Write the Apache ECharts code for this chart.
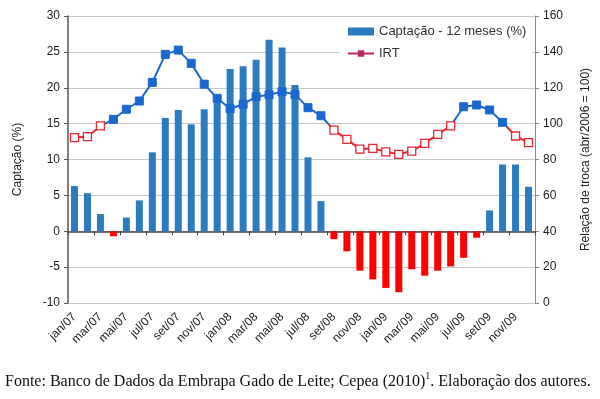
<!DOCTYPE html>
<html>
<head>
<meta charset="utf-8">
<script src="https://cdn.jsdelivr.net/npm/echarts@6/dist/echarts.min.js"></script>
<style>
  html, body { margin: 0; padding: 0; background: #fff; }
  #chart { width: 600px; height: 399px; }
</style>
</head>
<body>
<div id="chart"></div>
<script>
// meses jan/07 .. dez/09
var months = ['jan/07','fev/07','mar/07','abr/07','mai/07','jun/07','jul/07','ago/07','set/07','out/07','nov/07','dez/07',
  'jan/08','fev/08','mar/08','abr/08','mai/08','jun/08','jul/08','ago/08','set/08','out/08','nov/08','dez/08',
  'jan/09','fev/09','mar/09','abr/09','mai/09','jun/09','jul/09','ago/09','set/09','out/09','nov/09','dez/09']

// Captação - 12 meses (%)
var captacao = [6.3, 5.3, 2.4, -0.7, 1.9, 4.3, 11.0, 15.8, 16.9, 14.9, 17.0, 18.8,
  22.6, 23.0, 23.9, 26.7, 25.6, 20.4, 10.3, 4.2, -1.1, -2.8, -5.5, -6.7,
  -7.9, -8.5, -5.3, -6.2, -5.5, -4.9, -3.7, -0.9, 2.9, 9.3, 9.3, 6.2]

// IRT (abr/2006 = 100)
var irt = [92.2, 92.7, 98.7, 102.4, 108.0, 112.6, 123.0, 138.6, 141.0, 133.6, 122.0, 114.1,
  108.3, 110.8, 115.0, 116.1, 117.8, 116.3, 108.9, 104.4, 96.4, 91.2, 85.8, 86.2,
  84.3, 82.9, 84.7, 89.0, 94.0, 98.8, 109.4, 110.4, 107.6, 100.7, 93.1, 89.4]

var BLUE_BAR = '#2a7bbf'
var RED_BAR = '#ff0000'
var BLUE_LINE = '#1a68cf'
var RED_LINE = '#e8262c'
var LEGEND_IRT = '#b8245c'

var chart = echarts.init(document.getElementById('chart'))

chart.setOption({
  animation: false,
  textStyle: { fontFamily: 'Liberation Sans, Arial, sans-serif' },
  grid: { left: 68, right: 51, top: 16, bottom: 96 },
  legend: {
    orient: 'vertical',
    left: 340,
    top: 22,
    itemGap: 9,
    itemWidth: 26,
    itemHeight: 8,
    backgroundColor: '#fff',
    padding: [3, 6, 3, 7],
    textStyle: { fontSize: 13, color: '#333' },
    data: [
      { name: 'Captação - 12 meses (%)', icon: 'rect' },
      { name: 'IRT', itemStyle: { color: LEGEND_IRT }, lineStyle: { color: LEGEND_IRT, width: 2 } }
    ]
  },
  visualMap: {
    show: false,
    type: 'piecewise',
    seriesIndex: 1,
    dimension: 1,
    pieces: [
      { min: 100, max: 200, color: BLUE_LINE },
      { min: 0, max: 100, color: RED_LINE }
    ]
  },
  xAxis: [
    {
      type: 'category',
      data: months,
      position: 'bottom',
      boundaryGap: true,
      axisLine: { show: false, onZero: false },
      axisTick: { show: false },
      axisLabel: { interval: 1, rotate: 45, fontSize: 12, color: '#222', margin: 12 }
    },
    {
      type: 'category',
      data: months,
      position: 'top',
      boundaryGap: true,
      axisLine: { show: true, onZero: true, onZeroAxisIndex: 0, lineStyle: { color: '#444', width: 1.5 } },
      axisTick: { show: true, interval: 1, inside: true, length: 4, lineStyle: { color: '#444' } },
      axisLabel: { show: false }
    }
  ],
  yAxis: [
    {
      type: 'value',
      min: -10,
      max: 30,
      interval: 5,
      name: 'Captação (%)',
      nameLocation: 'middle',
      nameGap: 44,
      nameTextStyle: { fontSize: 12, color: '#222' },
      axisLine: { show: true, lineStyle: { color: '#555', width: 1.5 } },
      axisTick: { show: true, length: 4, lineStyle: { color: '#555' } },
      axisLabel: { fontSize: 12, color: '#222', margin: 8 },
      splitLine: { lineStyle: { color: '#c8c8c8', width: 1 } }
    },
    {
      type: 'value',
      min: 0,
      max: 160,
      interval: 20,
      position: 'right',
      name: 'Relação de troca (abr/2006 = 100)',
      nameLocation: 'middle',
      nameGap: 45,
      nameTextStyle: { fontSize: 12, color: '#222' },
      axisLine: { show: true, lineStyle: { color: '#888', width: 1 } },
      axisTick: { show: true, length: 4, lineStyle: { color: '#888' } },
      axisLabel: { fontSize: 12, color: '#222', margin: 8 },
      splitLine: { show: false }
    }
  ],
  series: [
    {
      name: 'Captação - 12 meses (%)',
      type: 'bar',
      xAxisIndex: 0,
      yAxisIndex: 0,
      barWidth: 7,
      itemStyle: { color: BLUE_BAR },
      data: captacao.map(function (v) {
        return v < 0 ? { value: v, itemStyle: { color: RED_BAR } } : v
      })
    },
    {
      name: 'IRT',
      type: 'line',
      xAxisIndex: 0,
      yAxisIndex: 1,
      symbol: 'rect',
      showSymbol: false,
      lineStyle: { width: 2 },
      z: 3,
      data: irt
    },
    {
      name: 'IRT-markers',
      type: 'scatter',
      xAxisIndex: 0,
      yAxisIndex: 1,
      symbol: 'rect',
      symbolSize: 8,
      z: 4,
      itemStyle: { opacity: 1 },
      data: irt.map(function (v) {
        return v > 100
          ? { value: v, itemStyle: { color: BLUE_LINE, borderColor: BLUE_LINE, opacity: 1 } }
          : { value: v, itemStyle: { color: '#fff', borderColor: RED_LINE, borderWidth: 1.3, opacity: 1 } }
      })
    }
  ],
  graphic: [
    {
      type: 'text',
      left: 5,
      top: 371,
      style: {
        text: 'Fonte: Banco de Dados da Embrapa Gado de Leite; Cepea (2010){sup|1}. Elaboração dos autores.',
        font: '16px "Liberation Serif", "Times New Roman", serif',
        lineHeight: 22,
        fill: '#111',
        rich: {
          sup: { fontSize: 10, lineHeight: 10, verticalAlign: 'top', fontFamily: 'Liberation Serif' }
        }
      }
    }
  ]
})
</script>
</body>
</html>
